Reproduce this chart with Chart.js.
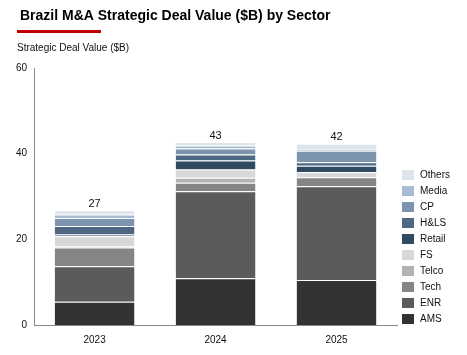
<!DOCTYPE html>
<html><head><meta charset="utf-8">
<script src="https://cdn.jsdelivr.net/npm/chart.js@4/dist/chart.umd.min.js"></script>
<style>html,body{margin:0;padding:0;background:#fff;}#wrap{width:467px;height:355px;position:relative;}</style>
</head><body><div id="wrap"><canvas id="c" width="467" height="355"></canvas></div>
<script>
const categories = ["2023", "2024", "2025"];
const sectors = ["AMS", "ENR", "Tech", "Telco", "FS", "Retail", "H&LS", "CP", "Media", "Others"];
const AMS    = [5.4, 10.9, 10.5];
const ENR    = [8.3, 20.3, 21.9];
const Tech   = [4.4, 2.0, 2.1];
const Telco  = [0.2, 1.2, 0.3];
const FS     = [2.4, 1.9, 0.9];
const Retail = [0.4, 2.1, 1.5];
const HLS    = [2.0, 1.4, 0.8];
const CP     = [1.9, 1.4, 2.7];
const Media  = [0.8, 0.7, 0.4];
const Others = [1.0, 0.8, 1.2];
const totalLabels = ["27", "43", "42"];
const yTicks = [0, 20, 40, 60];
const colors = ["#333333", "#5b5b5b", "#858585", "#b2b2b2", "#d8d8d8", "#2f4a61", "#4e6882", "#7c94ad", "#a6bcd2", "#dde4eb"];
const seriesValues = [AMS, ENR, Tech, Telco, FS, Retail, HLS, CP, Media, Others];

const datasets = sectors.map((s, i) => ({
  label: s, data: seriesValues[i], backgroundColor: colors[i],
  borderColor: "rgba(255,255,255,0.85)", borderWidth: {top: 1, bottom: 0, left: 0, right: 0},
  borderSkipped: false, barPercentage: 0.66, categoryPercentage: 1.0
}));

const FONT = "'Liberation Sans', Arial, sans-serif";

const deco = {
  id: "deco",
  afterDraw(chart) {
    const ctx = chart.ctx;
    ctx.save();
    ctx.fillStyle = "#000";
    ctx.font = "bold 14px " + FONT;
    ctx.textBaseline = "middle";
    ctx.textAlign = "left";
    ctx.fillText("Brazil M&A Strategic Deal Value ($B) by Sector", 20, 16);
    ctx.fillStyle = "#c00000";
    ctx.fillRect(17, 30, 84, 3);
    ctx.fillStyle = "#111";
    ctx.font = "10px " + FONT;
    ctx.fillText("Strategic Deal Value ($B)", 17, 48);
    // totals
    const x = chart.scales.x, y = chart.scales.y;
    ctx.font = "11px " + FONT;
    ctx.textAlign = "center";
    ctx.textBaseline = "bottom";
    categories.forEach((c, i) => {
      let tot = 0;
      seriesValues.forEach(v => tot += v[i]);
      ctx.fillText(totalLabels[i], x.getPixelForValue(i), y.getPixelForValue(tot) - 1);
    });
    // legend
    ctx.font = "10px " + FONT;
    ctx.textAlign = "left";
    ctx.textBaseline = "middle";
    const top = 175, step = 16;
    for (let k = 0; k < sectors.length; k++) {
      const idx = sectors.length - 1 - k;
      const yy = top + k * step;
      ctx.fillStyle = colors[idx];
      ctx.fillRect(402, yy - 5, 12, 10);
      ctx.fillStyle = "#111";
      ctx.fillText(sectors[idx], 420, yy);
    }
    ctx.restore();
  }
};

new Chart(document.getElementById("c"), {
  type: "bar",
  data: { labels: categories, datasets },
  options: {
    responsive: false, animation: false,
    layout: { padding: { top: 68, left: 12, right: 70, bottom: 0 } },
    plugins: { legend: { display: false }, tooltip: { enabled: false } },
    scales: {
      x: {
        stacked: true,
        grid: { display: false, drawTicks: false },
        border: { display: true, color: "#888", width: 1 },
        ticks: { color: "#111", font: { family: FONT, size: 10 }, padding: 9 }
      },
      y: {
        stacked: true, min: 0, max: 60,
        afterBuildTicks(axis) { axis.ticks = yTicks.map(v => ({ value: v })); },
        grid: { display: false, drawTicks: true, tickLength: 3, color: "#888" },
        border: { display: true, color: "#888", width: 1 },
        ticks: { color: "#111", font: { family: FONT, size: 10 }, padding: 4 }
      }
    }
  },
  plugins: [deco]
});
</script></body></html>
